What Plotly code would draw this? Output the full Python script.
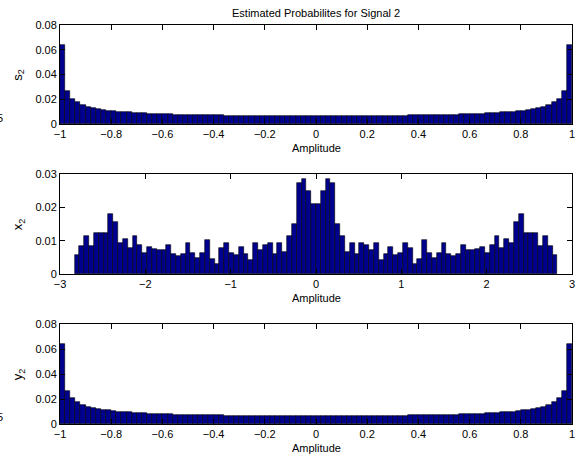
import numpy as np
import plotly.graph_objects as go
from plotly.subplots import make_subplots

# ---------------- data ----------------
# Estimated probabilities, 100 bins on [-1, 1]
s2 = [0.0638, 0.0266, 0.0205, 0.0174, 0.0154, 0.0140, 0.0129, 0.0121, 0.0114, 0.0109,
      0.0104, 0.0100, 0.0096, 0.0093, 0.0090, 0.0088, 0.0086, 0.0084, 0.0082, 0.0080,
      0.0079, 0.0078, 0.0076, 0.0075, 0.0074, 0.0073, 0.0072, 0.0071, 0.0071, 0.0070,
      0.0069, 0.0069, 0.0068, 0.0067, 0.0067, 0.0067, 0.0066, 0.0066, 0.0065, 0.0065,
      0.0065, 0.0065, 0.0064, 0.0064, 0.0064, 0.0064, 0.0064, 0.0064, 0.0064, 0.0064,
      0.0064, 0.0064, 0.0064, 0.0064, 0.0064, 0.0064, 0.0064, 0.0064, 0.0065, 0.0065,
      0.0065, 0.0065, 0.0066, 0.0066, 0.0067, 0.0067, 0.0067, 0.0068, 0.0069, 0.0069,
      0.0070, 0.0071, 0.0071, 0.0072, 0.0073, 0.0074, 0.0075, 0.0076, 0.0078, 0.0079,
      0.0080, 0.0082, 0.0084, 0.0086, 0.0088, 0.0090, 0.0093, 0.0096, 0.0100, 0.0104,
      0.0109, 0.0114, 0.0121, 0.0129, 0.0140, 0.0154, 0.0174, 0.0205, 0.0266, 0.0638]

y2 = [0.0638, 0.0266, 0.0205, 0.0174, 0.0154, 0.0140, 0.0129, 0.0121, 0.0114, 0.0109,
      0.0104, 0.0100, 0.0096, 0.0093, 0.0090, 0.0088, 0.0086, 0.0084, 0.0082, 0.0080,
      0.0079, 0.0078, 0.0076, 0.0075, 0.0074, 0.0073, 0.0072, 0.0071, 0.0071, 0.0070,
      0.0069, 0.0069, 0.0068, 0.0067, 0.0067, 0.0067, 0.0066, 0.0066, 0.0065, 0.0065,
      0.0065, 0.0065, 0.0064, 0.0064, 0.0064, 0.0064, 0.0064, 0.0064, 0.0064, 0.0064,
      0.0064, 0.0064, 0.0064, 0.0064, 0.0064, 0.0064, 0.0064, 0.0064, 0.0065, 0.0065,
      0.0065, 0.0065, 0.0066, 0.0066, 0.0067, 0.0067, 0.0067, 0.0068, 0.0069, 0.0069,
      0.0070, 0.0071, 0.0071, 0.0072, 0.0073, 0.0074, 0.0075, 0.0076, 0.0078, 0.0079,
      0.0080, 0.0082, 0.0084, 0.0086, 0.0088, 0.0090, 0.0093, 0.0096, 0.0100, 0.0104,
      0.0109, 0.0114, 0.0121, 0.0129, 0.0140, 0.0154, 0.0174, 0.0205, 0.0266, 0.0638]

# 100 bins on [-2.83, 2.83]
x2 = [0.0058, 0.0083, 0.0113, 0.0083, 0.0123, 0.0124, 0.0124, 0.0181, 0.0156, 0.0094,
      0.0106, 0.0078, 0.0113, 0.0088, 0.0064, 0.0082, 0.0076, 0.0071, 0.0071, 0.0087,
      0.0059, 0.0054, 0.0061, 0.0094, 0.0063, 0.0048, 0.0064, 0.0103, 0.0046, 0.0031,
      0.0078, 0.0092, 0.0062, 0.0058, 0.0081, 0.0061, 0.0041, 0.0093, 0.0071, 0.0088,
      0.0092, 0.0061, 0.0092, 0.0066, 0.0114, 0.0151, 0.0273, 0.0284, 0.0249, 0.0210,
      0.0210, 0.0249, 0.0284, 0.0273, 0.0151, 0.0114, 0.0066, 0.0092, 0.0061, 0.0092,
      0.0088, 0.0071, 0.0093, 0.0041, 0.0061, 0.0081, 0.0058, 0.0062, 0.0092, 0.0078,
      0.0031, 0.0046, 0.0103, 0.0064, 0.0048, 0.0063, 0.0094, 0.0061, 0.0054, 0.0059,
      0.0087, 0.0071, 0.0071, 0.0076, 0.0082, 0.0064, 0.0088, 0.0113, 0.0078, 0.0106,
      0.0094, 0.0156, 0.0181, 0.0124, 0.0124, 0.0123, 0.0083, 0.0113, 0.0083, 0.0058]

assert len(s2) == 100 and len(y2) == 100 and len(x2) == 100

S_LO, S_HI = -1.0, 1.0
X_LO, X_HI = -2.8284, 2.8284

s_edges = np.linspace(S_LO, S_HI, len(s2) + 1)
s_centers = (s_edges[:-1] + s_edges[1:]) / 2
s_width = s_edges[1] - s_edges[0]
x_edges = np.linspace(X_LO, X_HI, len(x2) + 1)
x_centers = (x_edges[:-1] + x_edges[1:]) / 2
x_width = x_edges[1] - x_edges[0]

# ---------------- layout geometry (pixels) ----------------
W, H = 581, 458
L, R = 60, 575
TOPS = [25, 174, 324]
BOTS = [124, 274, 424]
PT, PB = 25, 424
ph = PB - PT

def py(pix):
    return (PB - pix) / ph

def px(pix):
    return (pix - L) / (R - L)

FONT = "Liberation Sans, Arial, Helvetica, sans-serif"
FILL = "#00008F"

fig = make_subplots(rows=3, cols=1)

series = [(s_centers, s2, s_width), (x_centers, x2, x_width), (s_centers, y2, s_width)]
for i, (xc, yv, wd) in enumerate(series):
    fig.add_trace(go.Bar(x=xc, y=yv, width=wd, marker=dict(color=FILL, line=dict(color="black", width=0.6)),
                         showlegend=False), row=i + 1, col=1)

axis_common = dict(showline=True, linecolor="black", linewidth=1, mirror="ticks",
                   ticks="inside", ticklen=5, tickcolor="black", showgrid=False, zeroline=False,
                   tickfont=dict(family=FONT, size=11, color="black"))

xranges = [[-1, 1], [-3, 3], [-1, 1]]
xdticks = [0.2, 1, 0.2]
yranges = [[0, 0.08], [0, 0.03], [0, 0.08]]
ydticks = [0.02, 0.01, 0.02]

for i in range(3):
    ax = "" if i == 0 else str(i + 1)
    fig.layout["xaxis" + ax].update(domain=[0, 1], range=xranges[i], dtick=xdticks[i], tick0=0, **axis_common)
    fig.layout["yaxis" + ax].update(domain=[py(BOTS[i]), py(TOPS[i])], range=yranges[i], dtick=ydticks[i],
                                    tick0=0, **axis_common)

annotations = []
annotations.append(dict(text="Estimated Probabilites for Signal 2", x=0.5, y=py(13), xref="paper", yref="paper",
                        xanchor="center", yanchor="middle", showarrow=False,
                        font=dict(family=FONT, size=11, color="black")))
labels = ["s<sub>2</sub>", "x<sub>2</sub>", "y<sub>2</sub>"]
for i in range(3):
    annotations.append(dict(text="Amplitude", x=0.5, y=py(BOTS[i] + 24), xref="paper", yref="paper",
                            xanchor="center", yanchor="middle", showarrow=False,
                            font=dict(family=FONT, size=11, color="black")))
    annotations.append(dict(text=labels[i], x=px(18), y=py((TOPS[i] + BOTS[i]) / 2), xref="paper", yref="paper",
                            xanchor="center", yanchor="middle", showarrow=False, textangle=-90,
                            font=dict(family=FONT, size=13, color="black")))
# clipped stray tick label at the far left edge
for yy in [118, 417]:
    annotations.append(dict(text="5", x=px(4), y=py(yy), xref="paper", yref="paper",
                            xanchor="right", yanchor="middle", showarrow=False, borderpad=0,
                            font=dict(family=FONT, size=11, color="black")))

fig.update_layout(width=W, height=H, margin=dict(l=L, r=W - R, t=PT, b=H - PB),
                  paper_bgcolor="white", plot_bgcolor="white", bargap=0,
                  annotations=annotations, showlegend=False)

fig.write_html("out.html")
